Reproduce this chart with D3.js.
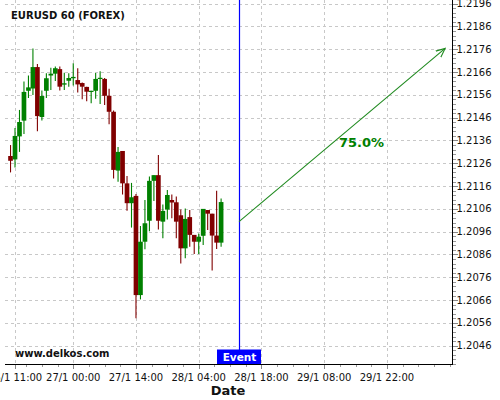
<!DOCTYPE html>
<html>
<head>
<meta charset="utf-8">
<script src="https://cdn.jsdelivr.net/npm/d3@7"></script>
<style>
  html, body { margin: 0; padding: 0; background: #fff; }
  svg { display: block; font-family: "DejaVu Sans", sans-serif; }
</style>
</head>
<body>
<svg id="chart" width="500" height="400"></svg>
<script>
// ---------- data ----------
const times = [
  "2021-01-26 10:00","2021-01-26 11:00","2021-01-26 12:00","2021-01-26 13:00","2021-01-26 14:00",
  "2021-01-26 15:00","2021-01-26 16:00","2021-01-26 17:00","2021-01-26 18:00","2021-01-26 19:00",
  "2021-01-26 20:00","2021-01-26 21:00","2021-01-26 22:00","2021-01-26 23:00","2021-01-27 00:00",
  "2021-01-27 01:00","2021-01-27 02:00","2021-01-27 03:00","2021-01-27 04:00","2021-01-27 05:00",
  "2021-01-27 06:00","2021-01-27 07:00","2021-01-27 08:00","2021-01-27 09:00","2021-01-27 10:00",
  "2021-01-27 11:00","2021-01-27 12:00","2021-01-27 13:00","2021-01-27 14:00","2021-01-27 15:00",
  "2021-01-27 16:00","2021-01-27 17:00","2021-01-27 18:00","2021-01-27 19:00","2021-01-27 20:00",
  "2021-01-27 21:00","2021-01-27 22:00","2021-01-27 23:00","2021-01-28 00:00","2021-01-28 01:00",
  "2021-01-28 02:00","2021-01-28 03:00","2021-01-28 04:00","2021-01-28 05:00","2021-01-28 06:00",
  "2021-01-28 07:00","2021-01-28 08:00","2021-01-28 09:00"
];
const opens = [1.21292,1.21277,1.21378,1.21447,1.21578,1.21588,1.21682,1.21463,1.21578,1.21645,
  1.21653,1.21673,1.21605,1.21622,1.21633,1.21625,1.21612,1.21595,1.21573,1.21578,
  1.21630,1.21630,1.21556,1.21486,1.21228,1.21314,1.21172,1.21085,1.21117,1.20682,
  1.20916,1.21008,1.21183,1.21208,1.21004,1.21057,1.21099,1.21089,1.21032,1.20887,
  1.21024,1.20946,1.20916,1.20942,1.21055,1.21039,1.20943,1.20912];
const highs = [1.21340,1.21415,1.21494,1.21619,1.21645,1.21764,1.21695,1.21579,1.21655,1.21679,
  1.21684,1.21685,1.21657,1.21655,1.21699,1.21677,1.21614,1.21596,1.21578,1.21656,
  1.21664,1.21634,1.21587,1.21492,1.21331,1.21314,1.21204,1.21174,1.21125,1.20985,
  1.21099,1.21202,1.21208,1.21296,1.21079,1.21143,1.21123,1.21114,1.21057,1.21062,
  1.21055,1.20946,1.20952,1.21060,1.21055,1.21039,1.21140,1.21106];
const lows = [1.21220,1.21242,1.21310,1.21389,1.21546,1.21560,1.21400,1.21448,1.21546,1.21581,
  1.21621,1.21579,1.21581,1.21596,1.21601,1.21571,1.21541,1.21532,1.21523,1.21543,
  1.21520,1.21516,1.21431,1.21193,1.21179,1.21123,1.21052,1.20978,1.20580,1.20663,
  1.20883,1.20962,1.21095,1.20970,1.20931,1.21014,1.21019,1.20931,1.20821,1.20843,
  1.20894,1.20862,1.20862,1.20902,1.20967,1.20790,1.20884,1.20894];
const closes = [1.21271,1.21380,1.21441,1.21573,1.21593,1.21682,1.21467,1.21555,1.21633,1.21653,
  1.21677,1.21596,1.21611,1.21634,1.21639,1.21606,1.21596,1.21574,1.21578,1.21630,
  1.21635,1.21556,1.21486,1.21231,1.21310,1.21172,1.21085,1.21111,1.20682,1.20916,
  1.20997,1.21183,1.21208,1.21008,1.21051,1.21121,1.21088,1.21004,1.20887,1.21016,
  1.20946,1.20916,1.20938,1.21060,1.21039,1.20943,1.20912,1.21090];

const yTickValues = [1.2046,1.2056,1.2066,1.2076,1.2086,1.2096,1.2106,1.2116,1.2126,1.2136,1.2146,1.2156,1.2166,1.2176,1.2186,1.2196];
const xTickTimes = ["2021-01-26 11:00","2021-01-27 00:00","2021-01-27 14:00","2021-01-28 04:00","2021-01-28 18:00","2021-01-29 08:00","2021-01-29 22:00"];

const eventTime = "2021-01-28 13:00";
const arrowStart = {time: "2021-01-28 13:00", price: 1.21004};
const arrowEnd = {time: "2021-01-30 11:00", price: 1.21764};
const arrowLabel = {time: "2021-01-29 16:20", price: 1.21350, text: "75.0%"};
const titleText = "EURUSD 60 (FOREX)";
const siteText = "www.delkos.com";
const xAxisTitle = "Date";

// ---------- scales ----------
const parse = d3.utcParse("%Y-%m-%d %H:%M");
const plotL = 5, plotR = 451.7, plotT = 0, plotB = 364;
const x = d3.scaleUtc()
  .domain([parse("2021-01-26 08:46"), parse("2021-01-30 12:28")])
  .range([plotL, plotR]);
const y = d3.scaleLinear().domain([1.203797, 1.219762]).range([plotB, plotT]);

const svg = d3.select("#chart");
const green = "#008000", red = "#800000";
const gridColor = "#c8c8c8";

// ---------- grid ----------
const grid = svg.append("g").attr("shape-rendering", "crispEdges");
grid.selectAll("line.h").data(yTickValues).join("line").attr("class", "h")
  .attr("x1", plotL).attr("x2", plotR)
  .attr("y1", d => Math.round(y(d)) + 0.5).attr("y2", d => Math.round(y(d)) + 0.5)
  .attr("stroke", gridColor).attr("stroke-dasharray", "3,3");
grid.selectAll("line.v").data(xTickTimes).join("line").attr("class", "v")
  .attr("x1", d => Math.round(x(parse(d))) + 0.5).attr("x2", d => Math.round(x(parse(d))) + 0.5)
  .attr("y1", plotT).attr("y2", plotB)
  .attr("stroke", gridColor).attr("stroke-dasharray", "3,3");

// ---------- candles ----------
const candles = times.map((t, i) => ({t: parse(t), o: opens[i], h: highs[i], l: lows[i], c: closes[i]}));
const hourW = x(parse("2021-01-26 11:00")) - x(parse("2021-01-26 10:00"));
const bw = hourW + 0.2;
const cg = svg.append("g");
cg.selectAll("line.wick").data(candles).join("line").attr("class", "wick")
  .attr("x1", d => x(d.t)).attr("x2", d => x(d.t))
  .attr("y1", d => y(d.h)).attr("y2", d => y(d.l))
  .attr("stroke", d => d.c >= d.o ? green : red).attr("stroke-width", 1.1);
cg.selectAll("rect.body").data(candles).join("rect").attr("class", "body")
  .attr("x", d => x(d.t) - bw / 2)
  .attr("width", bw)
  .attr("y", d => y(Math.max(d.o, d.c)))
  .attr("height", d => Math.max(1.2, Math.abs(y(d.o) - y(d.c))))
  .attr("fill", d => d.c >= d.o ? green : red);

// ---------- event line ----------
const ex = Math.round(x(parse(eventTime))) + 0.5;
svg.append("line").attr("x1", ex).attr("x2", ex).attr("y1", 0).attr("y2", 350)
  .style("stroke", "#0000ff").style("stroke-width", "1.2px");

// ---------- arrow ----------
svg.append("defs").append("marker")
  .attr("id", "arr").attr("viewBox", "0 0 10 10").attr("refX", 9).attr("refY", 5)
  .attr("markerWidth", 10).attr("markerHeight", 10).attr("markerUnits", "userSpaceOnUse")
  .attr("orient", "auto")
  .append("path").attr("d", "M0,1 L9,5 L0,9").attr("fill", "none").attr("stroke", "#1f8a1f").attr("stroke-width", 1.1);
svg.append("line")
  .attr("x1", x(parse(arrowStart.time))).attr("y1", y(arrowStart.price))
  .attr("x2", x(parse(arrowEnd.time))).attr("y2", y(arrowEnd.price))
  .attr("stroke", "#1f8a1f").attr("stroke-width", 1.1).attr("marker-end", "url(#arr)");
svg.append("text")
  .attr("x", x(parse(arrowLabel.time))).attr("y", y(arrowLabel.price))
  .attr("text-anchor", "middle").attr("dominant-baseline", "central")
  .attr("font-size", 13).attr("font-weight", "bold").attr("fill", "#008000")
  .text(arrowLabel.text);

// ---------- axes ----------
const yMinor = d3.range(1.2038, 1.21977, 0.0002);
const axG = svg.append("g").attr("shape-rendering", "crispEdges");
axG.selectAll("line.ymin").data(yMinor).join("line").attr("class", "ymin")
  .attr("x1", Math.round(plotR) + 0.5).attr("x2", Math.round(plotR) + 3.5)
  .attr("y1", d => Math.round(y(d)) + 0.5).attr("y2", d => Math.round(y(d)) + 0.5)
  .attr("stroke", "#999");
axG.selectAll("line.ymaj").data(yTickValues).join("line").attr("class", "ymaj")
  .attr("x1", Math.round(plotR) + 0.5).attr("x2", Math.round(plotR) + 5.5)
  .attr("y1", d => Math.round(y(d)) + 0.5).attr("y2", d => Math.round(y(d)) + 0.5)
  .attr("stroke", "#888");
svg.selectAll("text.yl").data(yTickValues).join("text").attr("class", "yl")
  .attr("x", 456.5).attr("y", d => y(d))
  .attr("dominant-baseline", "central").attr("font-size", 10).attr("fill", "#111")
  .text(d => d3.format(".4f")(d));

// x minor ticks every 3.5h around majors
const xMinor = d3.range(0, 30).map(k => new Date(+parse("2021-01-27 00:00") + (k - 3) * 3.5 * 3600e3))
  .filter(d => x(d) >= plotL && x(d) <= plotR);
axG.selectAll("line.xmin").data(xMinor).join("line").attr("class", "xmin")
  .attr("x1", d => Math.round(x(d)) + 0.5).attr("x2", d => Math.round(x(d)) + 0.5)
  .attr("y1", plotB).attr("y2", plotB + 3)
  .attr("stroke", "#999");
axG.selectAll("line.xmaj").data(xTickTimes).join("line").attr("class", "xmaj")
  .attr("x1", d => Math.round(x(parse(d))) + 0.5).attr("x2", d => Math.round(x(parse(d))) + 0.5)
  .attr("y1", plotB).attr("y2", plotB + 5)
  .attr("stroke", "#888");
const fmt = d3.utcFormat("%-d/%-m %H:%M");
svg.selectAll("text.xl").data(xTickTimes).join("text").attr("class", "xl")
  .attr("x", d => x(parse(d))).attr("y", 380.5)
  .attr("text-anchor", "middle").attr("font-size", 10).attr("fill", "#111")
  .text(d => fmt(parse(d)));

// axis lines
axG.append("line").attr("x1", plotL).attr("x2", Math.round(plotR) + 0.5)
  .attr("y1", plotB + 0.5).attr("y2", plotB + 0.5).attr("stroke", "#000");
axG.append("line").attr("x1", Math.round(plotR) + 0.5).attr("x2", Math.round(plotR) + 0.5)
  .attr("y1", 0).attr("y2", plotB + 0.5).attr("stroke", "#000");

// ---------- event label ----------
svg.append("rect").attr("x", ex - 22.5).attr("y", 349.5).attr("width", 44).attr("height", 14.5)
  .attr("fill", "#0000ff");
svg.append("text").attr("x", ex).attr("y", 361).attr("text-anchor", "middle")
  .attr("font-size", 10.5).attr("font-weight", "bold").attr("fill", "#fff").text("Event");

// ---------- texts ----------
svg.append("text").attr("x", 11).attr("y", 19).attr("font-size", 10).attr("font-weight", "bold")
  .attr("fill", "#111").text(titleText);
svg.append("text").attr("x", 15).attr("y", 357).attr("font-size", 10).attr("font-weight", "bold")
  .attr("fill", "#111").text(siteText);
svg.append("text").attr("x", 228).attr("y", 395).attr("text-anchor", "middle")
  .attr("font-size", 13).attr("font-weight", "bold").attr("fill", "#111").text(xAxisTitle);
</script>
</body>
</html>
